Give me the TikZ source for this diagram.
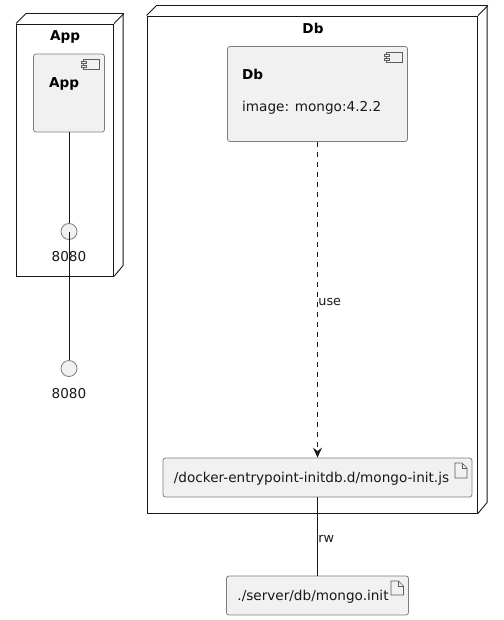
\documentclass[tikz,border=0pt]{standalone}
\usepackage{fontspec}
\setmainfont{DejaVu Sans}
\usetikzlibrary{arrows.meta, positioning}
\definecolor{boxfill}{RGB}{241,241,241}
\definecolor{boxborder}{RGB}{125,125,125}
\definecolor{linecolor}{RGB}{24,24,24}

\begin{document}
\begin{tikzpicture}[x=1pt, y=-1pt,
  % Node styles
  nodebox/.style={
    rectangle,
    draw=linecolor,
    line width=0.9pt,
    inner sep=0pt
  },
  compbox/.style={
    rectangle,
    draw=boxborder,
    line width=0.8pt,
    fill=boxfill,
    rounded corners=2.5pt,
    inner sep=0pt
  },
  filebox/.style={
    rectangle,
    draw=boxborder,
    line width=0.8pt,
    fill=boxfill,
    rounded corners=2.5pt,
    inner sep=0pt
  },
  portdot/.style={
    circle,
    draw=boxborder,
    line width=0.8pt,
    fill=boxfill,
    minimum size=16pt,
    inner sep=0pt
  },
  plaintext/.style={
    inner sep=0pt,
    text=linecolor,
    font=\fontsize{13.6}{15}\selectfont
  },
  titletext/.style={
    inner sep=0pt,
    text=black,
    font=\fontsize{13.6}{15}\selectfont\bfseries
  },
  edgetext/.style={
    inner sep=0pt,
    text=linecolor,
    font=\fontsize{12.8}{14}\selectfont
  },
  edgeline/.style={
    line width=0.9pt,
    draw=linecolor
  },
  usearrow/.style={
    -{Stealth[length=10pt, width=9pt, inset=3.5pt]},
    line width=0.9pt,
    draw=linecolor,
    dash pattern=on 5pt off 5pt
  },
  iconline/.style={
    line width=0.6pt,
    draw=linecolor!70
  }
]
\useasboundingbox (0,0) rectangle (503,620);

% ===== APP NODE =====
\node[nodebox, minimum width=97pt, minimum height=252pt] (appnode) at (65,150) {};
\draw[nodebox] (appnode.north west) -- ++(10,-10) -- ++(97,0) -- ++(0,252) -- (appnode.south east);
\draw[nodebox] (appnode.north east) -- ++(10,-10);
\node[titletext] (apptitle) at (65,37) {App};

\node[compbox, minimum width=71pt, minimum height=78pt] (app) at (69,93) {};
\node[titletext] (applabel) at (64,84) {App};
\draw[iconline] (83.5,59.5) rectangle (99.5,69.5);
\draw[iconline, fill=boxfill] (81.5,61.5) rectangle (86.5,63.5);
\draw[iconline, fill=boxfill] (81.5,65.5) rectangle (86.5,67.5);

\node[portdot] (innerport) at (69,231.5) {};
\node[plaintext] (innerlabel) at (69,256.5) {8080};

% ===== DB NODE =====
\node[nodebox, minimum width=330.5pt, minimum height=497pt] (dbnode) at (312.25,264.5) {};
\draw[nodebox] (dbnode.north west) -- ++(10,-10) -- ++(330.5,0) -- ++(0,497) -- (dbnode.south east);
\draw[nodebox] (dbnode.north east) -- ++(10,-10);
\node[titletext] (dbtitle) at (313,28) {Db};

\node[compbox, minimum width=180pt, minimum height=95pt] (db) at (317.5,94) {};
\node[titletext, anchor=west] (dblabel) at (242,74.5) {Db};
\node[plaintext, anchor=west] (dbimage) at (242,108) {image: mongo:4.2.2};
\draw[iconline] (386.5,52) rectangle (402.5,62);
\draw[iconline, fill=boxfill] (384.5,54) rectangle (389.5,56);
\draw[iconline, fill=boxfill] (384.5,58) rectangle (389.5,60);

\node[filebox, minimum width=309pt, minimum height=39pt] (initjs) at (317.5,477.5) {};
\node[plaintext] (initjslabel) at (311.5,479) {/docker-entrypoint-initdb.d/mongo-init.js};
\draw[iconline] (455,463) -- (455,478) -- (467,478) -- (467,468) -- (462,463) -- cycle;
\draw[iconline] (462,463) -- (462,468) -- (467,468);

% ===== OUTSIDE =====
\node[portdot] (outerport) at (69,368.5) {};
\node[plaintext] (outerlabel) at (69,393.5) {8080};

\node[filebox, minimum width=182pt, minimum height=39pt] (initfile) at (317.5,595.5) {};
\node[plaintext] (initfilelabel) at (313,597) {./server/db/mongo.init};
\draw[iconline] (391,581) -- (391,595) -- (403.5,595) -- (403.5,586) -- (398.5,581) -- cycle;
\draw[iconline] (398.5,581) -- (398.5,586) -- (403.5,586);

% ===== ARROWS =====
\draw[edgeline] (app) -- (innerport);
\draw[edgeline] (innerport.center) -- (outerport);
\draw[usearrow] (db) -- node[edgetext, right=0.5pt, yshift=-2pt] {use} (initjs);
\draw[edgeline] (initjs) -- node[edgetext, right=0.5pt, yshift=-2pt] {rw} (initfile);

\end{tikzpicture}
\end{document}
